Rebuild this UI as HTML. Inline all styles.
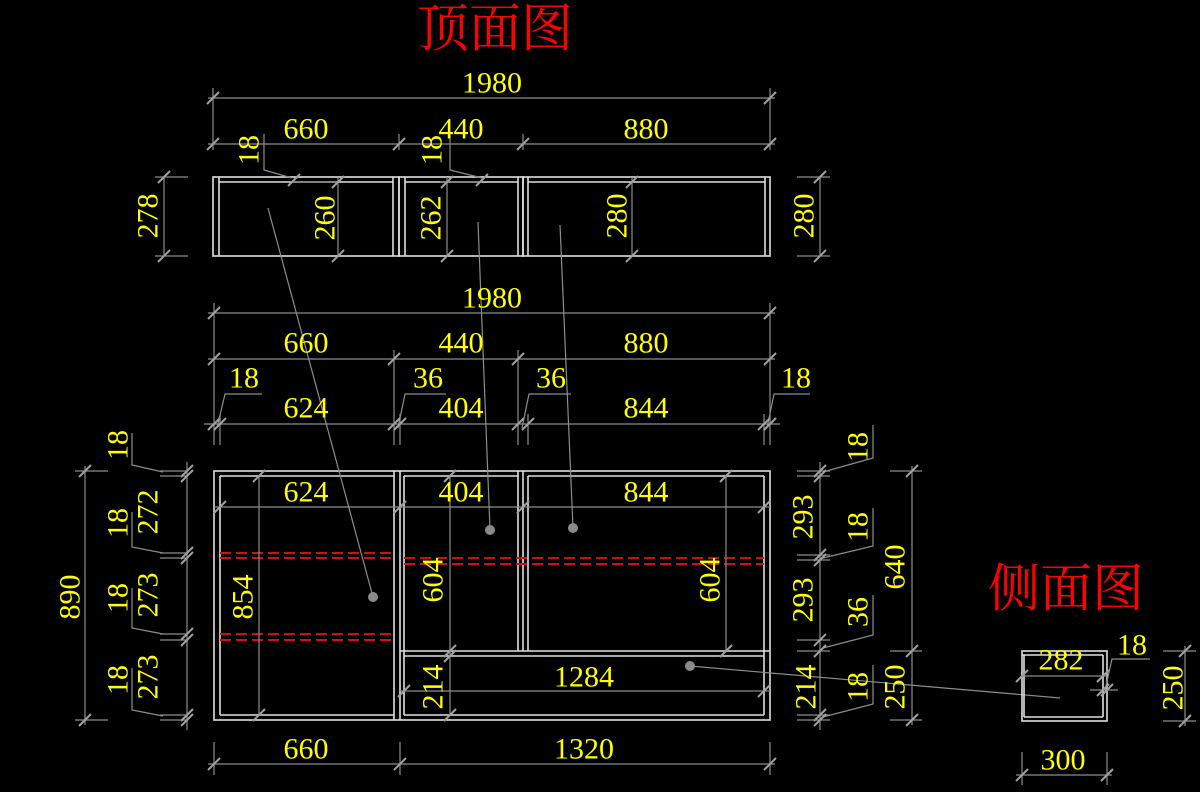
<!DOCTYPE html>
<html><head><meta charset="utf-8"><style>
html,body{margin:0;padding:0;background:#000;width:1200px;height:792px;overflow:hidden}
svg{display:block}
.w{stroke:#e0e0e0;stroke-width:1.6;fill:none}
.g{stroke:#8c8c8c;stroke-width:1.2;fill:none}
.t{stroke:#a0a0a0;stroke-width:2;fill:none}
.r{stroke:#d01010;stroke-width:2;stroke-dasharray:11,5;fill:none}
text.y{fill:#ffff00;font-family:"Liberation Serif",serif;font-size:30px;text-anchor:middle;dominant-baseline:central}
text.c{fill:#ff0000;font-family:"Liberation Serif","Noto Serif CJK SC",serif;font-size:52px;text-anchor:middle;dominant-baseline:central}
</style></head><body>
<svg width="1200" height="792" viewBox="0 0 1200 792" xmlns="http://www.w3.org/2000/svg">
<defs><path id="k" d="M-6,6 L6,-6" class="t"/></defs>

<text class="c" x="495" y="30">顶面图</text>
<text class="c" x="1066" y="590">侧面图</text>

<!-- TOP VIEW -->
<g class="w">
<rect x="213" y="177" width="186" height="79"/>
<line x1="219" y1="177" x2="219" y2="256"/><line x1="393" y1="177" x2="393" y2="256"/><line x1="219" y1="182" x2="393" y2="182"/>
<rect x="399" y="177" width="124" height="79"/>
<line x1="405" y1="177" x2="405" y2="256"/><line x1="518" y1="177" x2="518" y2="256"/><line x1="405" y1="182" x2="518" y2="182"/>
<rect x="523" y="177" width="247" height="79"/>
<line x1="528" y1="177" x2="528" y2="256"/><line x1="765" y1="177" x2="765" y2="256"/><line x1="528" y1="182" x2="765" y2="182"/>
</g>
<g class="g">
<line x1="208" y1="98" x2="775" y2="98"/><line x1="213" y1="88" x2="213" y2="150"/><line x1="770" y1="88" x2="770" y2="150"/>
<line x1="208" y1="144" x2="775" y2="144"/><line x1="399" y1="134" x2="399" y2="150"/><line x1="523" y1="134" x2="523" y2="150"/>
<line x1="164" y1="177" x2="164" y2="256"/><line x1="155" y1="177" x2="188" y2="177"/><line x1="155" y1="256" x2="188" y2="256"/>
<line x1="820" y1="177" x2="820" y2="256"/><line x1="797" y1="177" x2="830" y2="177"/><line x1="797" y1="256" x2="830" y2="256"/>
<line x1="338" y1="177" x2="338" y2="256"/><line x1="447" y1="177" x2="447" y2="256"/><line x1="632" y1="177" x2="632" y2="256"/>
<polyline points="264,134 264,170 292,178"/><polyline points="450,134 450,170 482,178"/>
<line x1="290" y1="182" x2="338" y2="182"/><line x1="440" y1="182" x2="482" y2="182"/>
</g>
<g>
<use href="#k" x="213" y="98"/><use href="#k" x="770" y="98"/><use href="#k" x="213" y="144"/><use href="#k" x="399" y="144"/><use href="#k" x="523" y="144"/><use href="#k" x="770" y="144"/>
<use href="#k" x="164" y="177"/><use href="#k" x="164" y="256"/><use href="#k" x="820" y="177"/><use href="#k" x="820" y="256"/>
<use href="#k" x="338" y="182"/><use href="#k" x="338" y="256"/><use href="#k" x="447" y="182"/><use href="#k" x="447" y="256"/><use href="#k" x="632" y="182"/><use href="#k" x="632" y="256"/>
<use href="#k" x="294" y="180"/><use href="#k" x="482" y="180"/>
</g>
<text class="y" x="492" y="83">1980</text>
<text class="y" x="306" y="129">660</text><text class="y" x="461" y="129">440</text><text class="y" x="646" y="129">880</text>
<text class="y" transform="translate(249,150) rotate(-90)">18</text>
<text class="y" transform="translate(432,150) rotate(-90)">18</text>
<text class="y" transform="translate(148,216) rotate(-90)">278</text>
<text class="y" transform="translate(325,218) rotate(-90)">260</text>
<text class="y" transform="translate(431,218) rotate(-90)">262</text>
<text class="y" transform="translate(617,216) rotate(-90)">280</text>
<text class="y" transform="translate(804,216) rotate(-90)">280</text>

<!-- FRONT VIEW -->
<g class="w">
<rect x="214" y="471" width="556" height="249"/>
<line x1="220" y1="476" x2="220" y2="715"/><line x1="220" y1="476" x2="394" y2="476"/><line x1="220" y1="715" x2="394" y2="715"/>
<line x1="394" y1="471" x2="394" y2="720"/><line x1="400" y1="471" x2="400" y2="720"/><line x1="404" y1="476" x2="404" y2="715"/>
<line x1="404" y1="476" x2="518" y2="476"/><line x1="518" y1="471" x2="518" y2="651"/><line x1="523" y1="471" x2="523" y2="651"/><line x1="528" y1="476" x2="528" y2="651"/>
<line x1="528" y1="476" x2="764" y2="476"/><line x1="764" y1="476" x2="764" y2="715"/>
<line x1="400" y1="651" x2="770" y2="651"/><line x1="404" y1="656" x2="764" y2="656"/><line x1="404" y1="715" x2="764" y2="715"/>
</g>
<g class="r">
<line x1="220" y1="553" x2="394" y2="553"/><line x1="220" y1="558" x2="394" y2="558"/>
<line x1="220" y1="634" x2="394" y2="634"/><line x1="220" y1="640" x2="394" y2="640"/>
<line x1="404" y1="558" x2="764" y2="558"/><line x1="404" y1="564" x2="764" y2="564"/>
</g>
<g class="g">
<line x1="208" y1="313" x2="775" y2="313"/><line x1="208" y1="359" x2="775" y2="359"/><line x1="204" y1="424" x2="780" y2="424"/>
<line x1="214" y1="303" x2="214" y2="445"/><line x1="770" y1="303" x2="770" y2="445"/>
<line x1="220" y1="414" x2="220" y2="445"/><line x1="394" y1="350" x2="394" y2="445"/><line x1="400" y1="414" x2="400" y2="445"/>
<line x1="518" y1="350" x2="518" y2="445"/><line x1="528" y1="414" x2="528" y2="445"/><line x1="764" y1="414" x2="764" y2="445"/>
<polyline points="217,428 225,394 262,394"/><polyline points="398,428 405,394 446,394"/><polyline points="522,428 529,394 571,394"/><polyline points="767,428 774,394 810,394"/>
<line x1="214" y1="507" x2="770" y2="507"/>
<line x1="259" y1="476" x2="259" y2="715"/><line x1="450" y1="476" x2="450" y2="715"/><line x1="726" y1="476" x2="726" y2="651"/>
<line x1="400" y1="691" x2="770" y2="691"/>
<line x1="208" y1="764" x2="775" y2="764"/><line x1="214" y1="742" x2="214" y2="775"/><line x1="400" y1="742" x2="400" y2="775"/><line x1="770" y1="742" x2="770" y2="775"/>
<line x1="85" y1="466" x2="85" y2="725"/><line x1="75" y1="471" x2="108" y2="471"/><line x1="75" y1="720" x2="108" y2="720"/>
<line x1="187" y1="462" x2="187" y2="730"/>
<line x1="160" y1="471" x2="188" y2="471"/><line x1="160" y1="476" x2="188" y2="476"/><line x1="160" y1="553" x2="188" y2="553"/><line x1="160" y1="558" x2="188" y2="558"/>
<line x1="160" y1="634" x2="188" y2="634"/><line x1="160" y1="640" x2="188" y2="640"/><line x1="160" y1="715" x2="188" y2="715"/><line x1="160" y1="720" x2="188" y2="720"/>
<polyline points="132,433 132,465 163,472"/><polyline points="132,512 132,547 163,553"/><polyline points="132,588 132,628 163,634"/><polyline points="132,668 132,710 163,716"/>
<line x1="820" y1="462" x2="820" y2="730"/>
<line x1="797" y1="471" x2="830" y2="471"/><line x1="797" y1="476" x2="830" y2="476"/><line x1="797" y1="555" x2="830" y2="555"/><line x1="797" y1="560" x2="830" y2="560"/>
<line x1="797" y1="640" x2="830" y2="640"/><line x1="797" y1="651" x2="830" y2="651"/><line x1="797" y1="715" x2="830" y2="715"/><line x1="797" y1="720" x2="830" y2="720"/>
<polyline points="823,472 873,458 873,425"/><polyline points="823,558 873,546 873,508"/><polyline points="823,648 873,635 873,595"/><polyline points="823,717 873,704 873,665"/>
<line x1="912" y1="466" x2="912" y2="725"/><line x1="890" y1="471" x2="922" y2="471"/><line x1="890" y1="651" x2="922" y2="651"/><line x1="890" y1="720" x2="922" y2="720"/>
<line x1="268" y1="208" x2="373" y2="597"/><line x1="478" y1="222" x2="490" y2="530"/><line x1="560" y1="225" x2="573" y2="528"/><line x1="690" y1="666" x2="1060" y2="698"/>
</g>
<g fill="#8a8a8a"><circle cx="373" cy="597" r="5"/><circle cx="490" cy="530" r="5"/><circle cx="573" cy="528" r="5"/><circle cx="690" cy="666" r="5"/></g>
<g>
<use href="#k" x="214" y="313"/><use href="#k" x="770" y="313"/><use href="#k" x="214" y="359"/><use href="#k" x="394" y="359"/><use href="#k" x="518" y="359"/><use href="#k" x="770" y="359"/>
<use href="#k" x="214" y="424"/><use href="#k" x="220" y="424"/><use href="#k" x="394" y="424"/><use href="#k" x="400" y="424"/><use href="#k" x="518" y="424"/><use href="#k" x="528" y="424"/><use href="#k" x="764" y="424"/><use href="#k" x="770" y="424"/>
<use href="#k" x="220" y="507"/><use href="#k" x="400" y="507"/><use href="#k" x="523" y="507"/><use href="#k" x="764" y="507"/>
<use href="#k" x="259" y="476"/><use href="#k" x="259" y="715"/><use href="#k" x="450" y="476"/><use href="#k" x="450" y="651"/><use href="#k" x="450" y="656"/><use href="#k" x="450" y="715"/><use href="#k" x="726" y="476"/><use href="#k" x="726" y="651"/>
<use href="#k" x="404" y="691"/><use href="#k" x="764" y="691"/>
<use href="#k" x="214" y="764"/><use href="#k" x="400" y="764"/><use href="#k" x="770" y="764"/>
<use href="#k" x="85" y="471"/><use href="#k" x="85" y="720"/>
<use href="#k" x="187" y="471"/><use href="#k" x="187" y="476"/><use href="#k" x="187" y="553"/><use href="#k" x="187" y="558"/><use href="#k" x="187" y="634"/><use href="#k" x="187" y="640"/><use href="#k" x="187" y="715"/><use href="#k" x="187" y="720"/>
<use href="#k" x="820" y="471"/><use href="#k" x="820" y="476"/><use href="#k" x="820" y="555"/><use href="#k" x="820" y="560"/><use href="#k" x="820" y="640"/><use href="#k" x="820" y="651"/><use href="#k" x="820" y="715"/><use href="#k" x="820" y="720"/>
<use href="#k" x="912" y="471"/><use href="#k" x="912" y="651"/><use href="#k" x="912" y="720"/>
</g>
<text class="y" x="492" y="298">1980</text>
<text class="y" x="306" y="343">660</text><text class="y" x="461" y="343">440</text><text class="y" x="646" y="343">880</text>
<text class="y" x="244" y="378">18</text><text class="y" x="428" y="378">36</text><text class="y" x="551" y="378">36</text><text class="y" x="796" y="378">18</text>
<text class="y" x="306" y="408">624</text><text class="y" x="461" y="408">404</text><text class="y" x="646" y="408">844</text>
<text class="y" x="306" y="492">624</text><text class="y" x="461" y="492">404</text><text class="y" x="646" y="492">844</text>
<text class="y" x="584" y="677">1284</text>
<text class="y" x="306" y="749">660</text><text class="y" x="584" y="749">1320</text>
<g>
<text class="y" transform="translate(70,597) rotate(-90)">890</text>
<text class="y" transform="translate(118,445) rotate(-90)">18</text>
<text class="y" transform="translate(118,523) rotate(-90)">18</text>
<text class="y" transform="translate(148,512) rotate(-90)">272</text>
<text class="y" transform="translate(118,598) rotate(-90)">18</text>
<text class="y" transform="translate(148,595) rotate(-90)">273</text>
<text class="y" transform="translate(118,680) rotate(-90)">18</text>
<text class="y" transform="translate(148,677) rotate(-90)">273</text>
<text class="y" transform="translate(243,597) rotate(-90)">854</text>
<text class="y" transform="translate(433,580) rotate(-90)">604</text>
<text class="y" transform="translate(710,580) rotate(-90)">604</text>
<text class="y" transform="translate(433,687) rotate(-90)">214</text>
<text class="y" transform="translate(806,687) rotate(-90)">214</text>
<text class="y" transform="translate(803,517) rotate(-90)">293</text>
<text class="y" transform="translate(803,600) rotate(-90)">293</text>
<text class="y" transform="translate(858,447) rotate(-90)">18</text>
<text class="y" transform="translate(858,527) rotate(-90)">18</text>
<text class="y" transform="translate(858,612) rotate(-90)">36</text>
<text class="y" transform="translate(858,687) rotate(-90)">18</text>
<text class="y" transform="translate(895,567) rotate(-90)">640</text>
<text class="y" transform="translate(895,687) rotate(-90)">250</text>
</g>

<!-- SIDE VIEW -->
<g class="w">
<rect x="1022" y="651" width="85" height="70"/>
<line x1="1022" y1="655" x2="1103" y2="655"/><line x1="1103" y1="655" x2="1103" y2="717"/><line x1="1024" y1="717" x2="1103" y2="717"/><line x1="1024" y1="655" x2="1024" y2="717"/>
</g>
<g class="g">
<line x1="1022" y1="676" x2="1107" y2="676"/>
<polyline points="1105,690 1112,659 1150,659"/>
<line x1="1090" y1="690" x2="1118" y2="690"/>
<line x1="1185" y1="646" x2="1185" y2="726"/><line x1="1163" y1="651" x2="1196" y2="651"/><line x1="1163" y1="721" x2="1196" y2="721"/>
<line x1="1016" y1="775" x2="1112" y2="775"/><line x1="1022" y1="752" x2="1022" y2="785"/><line x1="1107" y1="752" x2="1107" y2="785"/>
</g>
<g>
<use href="#k" x="1022" y="676"/><use href="#k" x="1103" y="676"/><use href="#k" x="1103" y="690"/><use href="#k" x="1107" y="690"/>
<use href="#k" x="1185" y="651"/><use href="#k" x="1185" y="721"/><use href="#k" x="1022" y="775"/><use href="#k" x="1107" y="775"/>
</g>
<text class="y" x="1061" y="660">282</text>
<text class="y" x="1132" y="645">18</text>
<text class="y" x="1063" y="760">300</text>
<text class="y" transform="translate(1173,688) rotate(-90)">250</text>
</svg>
</body></html>
